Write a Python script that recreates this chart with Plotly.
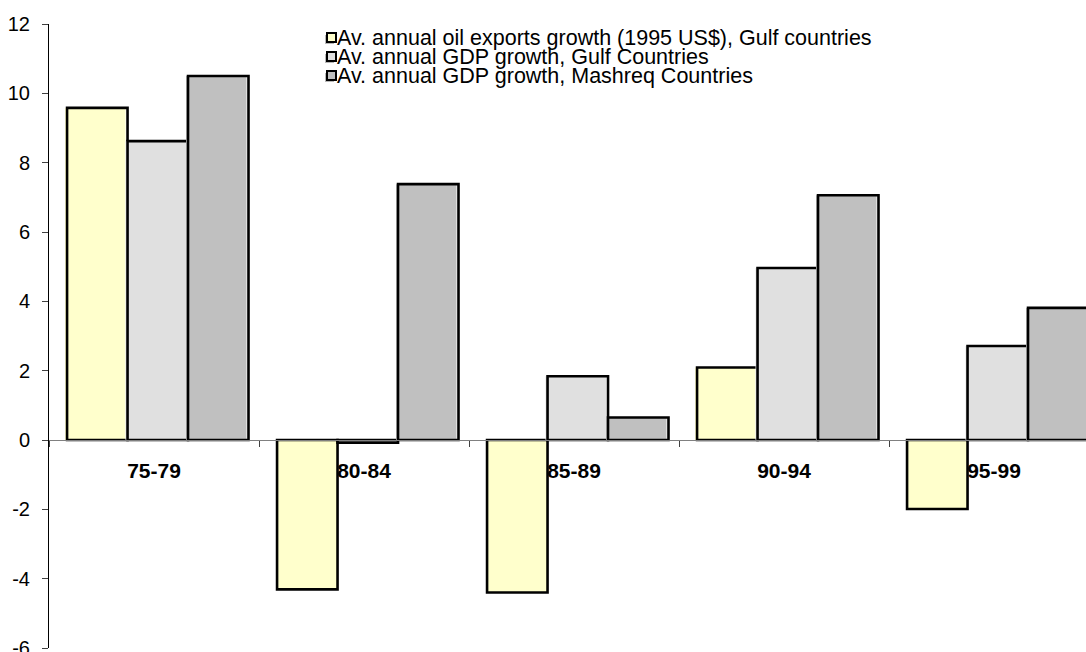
import plotly.graph_objects as go

# Period categories and growth rates (%)
periods = ["75-79", "80-84", "85-89", "90-94", "95-99"]
oil_exports_gulf = [9.58, -4.31, -4.40, 2.09, -1.99]
gdp_gulf = [8.62, -0.08, 1.84, 4.96, 2.71]
gdp_mashreq = [10.50, 7.38, 0.65, 7.06, 3.81]

# Value-axis ticks
y_ticks = [-6, -4, -2, 0, 2, 4, 6, 8, 10, 12]
y_tick_labels = ["-6", "-4", "-2", "0", "2", "4", "6", "8", "10", "12"]

series_names = [
    "Av. annual oil exports growth (1995 US$), Gulf countries",
    "Av. annual GDP growth, Gulf Countries",
    "Av. annual GDP growth, Mashreq Countries",
]
series_colors = ["#FFFFCC", "#E0E0E0", "#C0C0C0"]
series_values = [oil_exports_gulf, gdp_gulf, gdp_mashreq]

W, H = 1086, 652
ML, MR, MT, MB = 49, 0, 24, 4
PW, PH = W - ML - MR, H - MT - MB
CAT_PX = 210.0                       # pixel width of one category slot
BAR_W = 0.288                        # bar width in category units
BASE_OFFSETS = [-0.414, -0.126, 0.162]
SHIFT = 2.0 / CAT_PX                 # fill drawn slightly left of the outline on positive bars

fig = go.Figure()

for vals, color, off in zip(series_values, series_colors, BASE_OFFSETS):
    # fill layer
    fig.add_trace(go.Bar(
        x=periods, y=vals, width=BAR_W,
        offset=[off - (SHIFT if v > 0 else 0) for v in vals],
        marker=dict(color=color, line=dict(width=0)),
        showlegend=False, hoverinfo="skip",
    ))
    # outline layer
    fig.add_trace(go.Bar(
        x=periods, y=vals, width=BAR_W, offset=off,
        marker=dict(color="rgba(0,0,0,0)", line=dict(color="black", width=2.6)),
        showlegend=False,
    ))


def px_x(p):
    return (p - ML) / PW


def px_y(p):
    return 1 - (p - MT) / PH


# legend: small swatches with text
shapes = []
annotations = []
leg_x0 = 327
row_centers = [37.5, 56.5, 75.5]
for name, color, yc in zip(series_names, series_colors, row_centers):
    s = 9
    shapes.append(dict(type="rect", xref="paper", yref="paper",
                       x0=px_x(leg_x0 - 2), x1=px_x(leg_x0 + s - 2),
                       y0=px_y(yc + s / 2 + 2), y1=px_y(yc - s / 2 + 2),
                       fillcolor="#B8B8B8",
                       line=dict(width=0), layer="above"))
    shapes.append(dict(type="rect", xref="paper", yref="paper",
                       x0=px_x(leg_x0), x1=px_x(leg_x0 + s),
                       y0=px_y(yc + s / 2), y1=px_y(yc - s / 2),
                       fillcolor=color, line=dict(color="black", width=2),
                       layer="above"))
    annotations.append(dict(xref="paper", yref="paper",
                            x=px_x(leg_x0 + s - 1.5), y=px_y(yc),
                            xanchor="left", yanchor="middle",
                            text=name, showarrow=False,
                            font=dict(family="Liberation Sans, Arial", size=21.5,
                                      color="black")))

fig.update_layout(
    width=W, height=H,
    margin=dict(l=ML, r=MR, t=MT, b=MB, pad=0),
    paper_bgcolor="white", plot_bgcolor="white",
    barmode="overlay",
    showlegend=False,
    shapes=shapes,
    annotations=annotations,
    font=dict(family="Liberation Sans, Arial", color="black"),
    xaxis=dict(
        type="category", categoryorder="array", categoryarray=periods,
        range=[-0.5, -0.5 + PW / CAT_PX],
        anchor="free", position=6 / 18, automargin=False,
        showline=True, linecolor="#808080", linewidth=1,
        ticks="outside", tickson="boundaries", ticklen=6,
        tickcolor="#404040", tickwidth=1,
        ticklabelstandoff=12,
        tickfont=dict(family="Liberation Sans, Arial", size=21, color="black",
                      weight="bold"),
        showgrid=False, zeroline=False,
    ),
    yaxis=dict(
        range=[-6, 12], tickmode="array",
        tickvals=y_ticks, ticktext=y_tick_labels,
        ticklabeloverflow="allow", automargin=False,
        showline=True, linecolor="black", linewidth=1,
        ticks="outside", ticklen=6, tickcolor="#404040", tickwidth=1,
        ticklabelstandoff=8,
        tickfont=dict(family="Liberation Sans, Arial", size=20, color="black"),
        showgrid=False, zeroline=False,
    ),
)

fig.write_html("out.html")
